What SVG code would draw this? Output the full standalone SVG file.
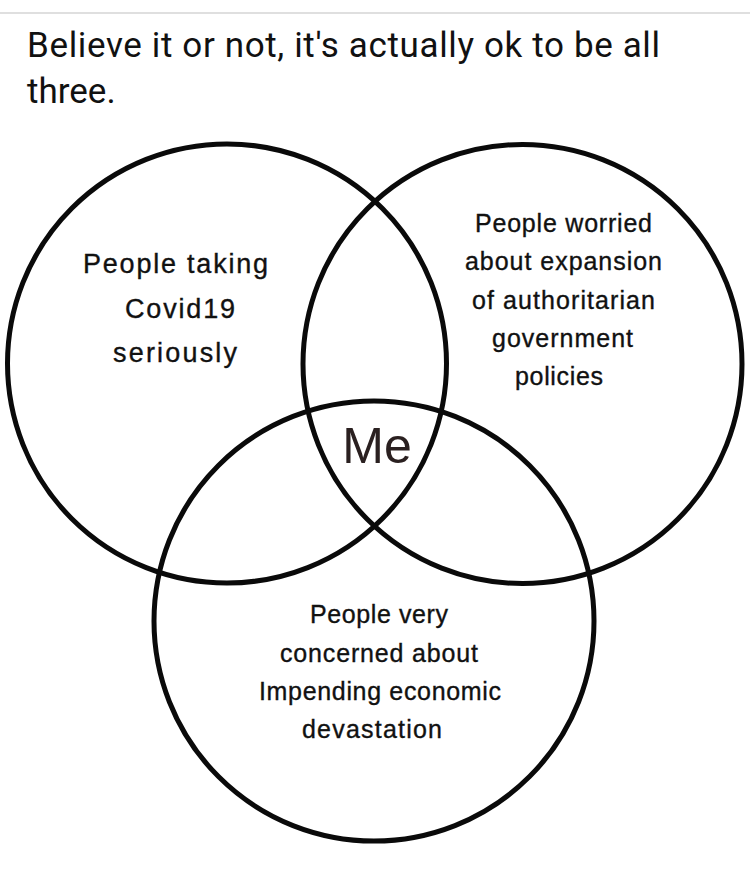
<svg xmlns="http://www.w3.org/2000/svg" width="750" height="872" viewBox="0 0 750 872">
  <style>
    .ring { fill: none; stroke: #0a0a0a; stroke-width: 5; }
    .title { font-family: Roboto, "Liberation Sans", sans-serif; font-size: 35px; fill: #111; }
    .lbl { font-family: "Liberation Sans", Arial, sans-serif; font-size: 25px; fill: #111; stroke: #111; stroke-width: 0.35; text-anchor: middle; }
    .big { font-size: 27px; }
    .me { font-family: "Liberation Sans", Arial, sans-serif; font-size: 50px; fill: #2a2020; text-anchor: middle; }
  </style>
  <rect x="0" y="0" width="750" height="872" fill="#ffffff"/>
  <line x1="0" y1="13" x2="750" y2="13" stroke="#d4d4d4" stroke-width="1.5"/>
  <g id="title">
    <text class="title" x="27" y="57" textLength="633">Believe it or not, it's actually ok to be all</text>
    <text class="title" x="27" y="103">three.</text>
  </g>
  <g id="circle-covid">
    <circle class="ring" cx="227" cy="363.5" r="219.5"/>
    <text class="lbl big" x="175.5" y="273" textLength="185">People taking</text>
    <text class="lbl big" x="180" y="318" textLength="110">Covid19</text>
    <text class="lbl big" x="175" y="362" textLength="124">seriously</text>
  </g>
  <g id="circle-authoritarian">
    <circle class="ring" cx="522.5" cy="364" r="219.5"/>
    <text class="lbl" x="563.5" y="232" textLength="177">People worried</text>
    <text class="lbl" x="563.5" y="270" textLength="197">about expansion</text>
    <text class="lbl" x="563.5" y="309" textLength="183">of authoritarian</text>
    <text class="lbl" x="562.5" y="347" textLength="141">government</text>
    <text class="lbl" x="559" y="385" textLength="88">policies</text>
  </g>
  <g id="circle-economic">
    <circle class="ring" cx="374" cy="621" r="220"/>
    <text class="lbl" x="379" y="623" textLength="138">People very</text>
    <text class="lbl" x="379" y="662" textLength="198">concerned about</text>
    <text class="lbl" x="380" y="700" textLength="242">Impending economic</text>
    <text class="lbl" x="372" y="738" textLength="140">devastation</text>
  </g>
  <g id="me">
    <text class="me" x="377" y="463">Me</text>
  </g>
</svg>
